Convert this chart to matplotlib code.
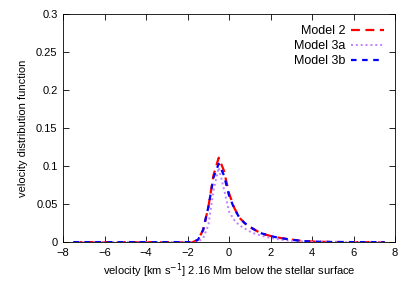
import numpy as np
import matplotlib
matplotlib.use("Agg")
import matplotlib.pyplot as plt

plt.rcParams['font.family'] = ['Liberation Sans', 'DejaVu Sans']

# velocity grid [km/s]
velocity = np.arange(-7.5, 7.51, 0.25)

# values for v >= -1.75 (zero below)
tail_v = [-1.75, -1.5, -1.25, -1.0, -0.75, -0.5, -0.25, 0.0, 0.25, 0.5, 0.75, 1.0, 1.25, 1.5,
          1.75, 2.0, 2.25, 2.5, 2.75, 3.0, 3.25, 3.5, 3.75, 4.0, 4.25, 4.5, 4.75, 5.0, 5.25, 5.5]
model2 = [0.0, 0.003, 0.016, 0.046, 0.088, 0.111, 0.094, 0.064, 0.045, 0.032, 0.025, 0.020, 0.016, 0.012,
          0.010, 0.008, 0.0065, 0.0053, 0.0043, 0.0033, 0.0025, 0.0017, 0.0012, 0.0008, 0.0006, 0.0004,
          0.0003, 0.0002, 0.00015, 0.0001]
model3a = [0.0, 0.0005, 0.005, 0.022, 0.068, 0.098, 0.070, 0.040, 0.029, 0.022, 0.018, 0.014, 0.011, 0.009,
           0.007, 0.0055, 0.0043, 0.0031, 0.0024, 0.0018, 0.0013, 0.0009, 0.0006, 0.0004, 0.0003, 0.0002,
           0.00015, 0.0001, 0.0, 0.0]
model3b = [0.0, 0.003, 0.016, 0.046, 0.085, 0.103, 0.088, 0.061, 0.044, 0.032, 0.025, 0.020, 0.016, 0.012,
           0.010, 0.008, 0.0065, 0.0052, 0.0042, 0.0032, 0.0024, 0.0016, 0.0011, 0.0008, 0.0006, 0.0004,
           0.0003, 0.0002, 0.00015, 0.0001]


def full_series(vals):
    out = np.zeros_like(velocity)
    for v, y in zip(tail_v, vals):
        out[np.isclose(velocity, v)] = y
    return out


fig = plt.figure(figsize=(4.15, 2.91), dpi=100)
ax = fig.add_axes([0.152, 0.168, 0.8, 0.784])

ax.plot(velocity, full_series(model2), color='#ff0000', lw=1.6, ls=(0, (4, 2.5)), label='Model 2')
ax.plot(velocity, full_series(model3a), color='#c080ff', lw=1.4, ls=(0, (1, 1.5)), label='Model 3a')
ax.plot(velocity, full_series(model3b), color='#0000ff', lw=1.6, ls=(0, (2.5, 2.5)), label='Model 3b')

ax.set_xlim(-8, 8)
ax.set_ylim(0, 0.3)
ax.set_xticks(np.arange(-8, 9, 2))
ax.set_yticks([0, 0.05, 0.1, 0.15, 0.2, 0.25, 0.3])
ax.set_yticklabels(['0', '0.05', '0.1', '0.15', '0.2', '0.25', '0.3'])
ax.tick_params(direction='in', top=True, right=True, labelsize=8, length=4, width=0.6, pad=4)
for s in ax.spines.values():
    s.set_linewidth(0.6)

ax.set_xlabel(r'velocity [km s$^{-1}$] 2.16 Mm below the stellar surface', fontsize=8, labelpad=3)
ax.set_ylabel('velocity distribution function', fontsize=8, labelpad=6)

ax.legend(loc='upper right', frameon=False, markerfirst=False, fontsize=9, handlelength=2.6,
          labelspacing=0.25, handletextpad=0.5, borderaxespad=0.5)

fig.savefig('out.png', dpi=100)
